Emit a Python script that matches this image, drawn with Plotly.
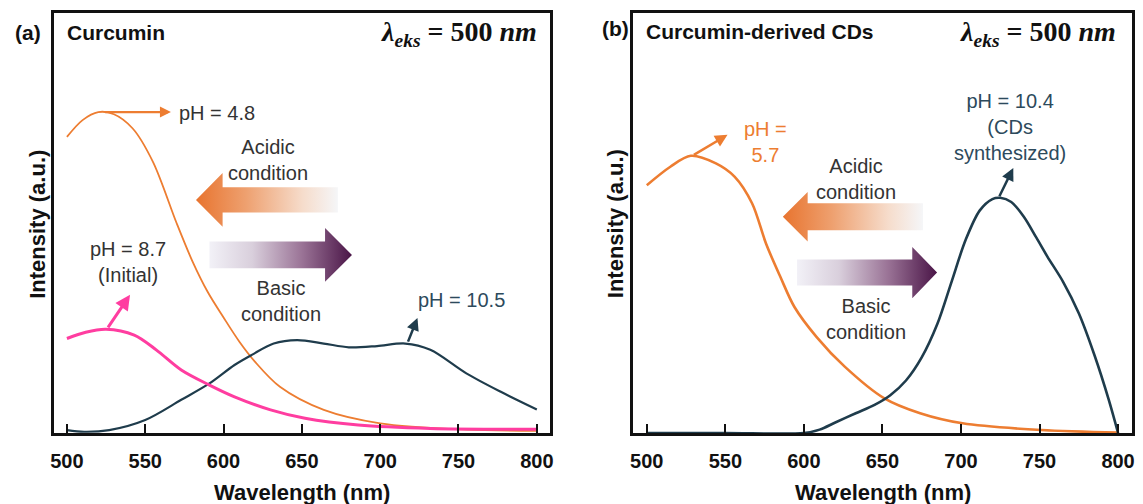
import plotly.graph_objects as go

# ---------------- data (wavelength nm, intensity a.u. 0-100) ----------------
# Panel (a) Curcumin
a_orange_x = [500, 510, 520, 530, 542, 555, 570, 580, 590, 600, 610, 620, 636, 664, 700, 755, 800]
a_orange_y = [70.5, 74.5, 76.4, 75.9, 72.5, 64.5, 50.0, 41.0, 33.5, 27.5, 21.8, 17.0, 11.0, 5.5, 2.3, 0.8, 0.5]

a_pink_x = [500, 512, 525, 543, 557, 573, 591, 607, 630, 652, 686, 732, 800]
a_pink_y = [22.5, 24.0, 24.7, 23.3, 19.8, 15.0, 11.4, 8.6, 5.5, 3.5, 1.9, 1.1, 0.9]

a_navy_x = [500, 511, 527, 550, 573, 591, 607, 618, 632, 647, 664, 680, 698, 716, 732, 755, 777, 800]
a_navy_y = [0.7, 0.3, 0.7, 3.1, 7.9, 11.8, 16.2, 18.6, 21.3, 22.1, 21.3, 20.4, 20.7, 21.3, 19.8, 14.2, 9.8, 5.6]

# Panel (b) Curcumin-derived CDs
b_orange_x = [500, 515, 528, 544, 556, 567, 576, 585, 594, 608, 626, 651, 674, 701, 751, 800]
b_orange_y = [59.0, 63.4, 66.0, 64.2, 61.0, 54.7, 45.0, 37.2, 30.0, 22.9, 15.8, 8.3, 4.7, 2.3, 0.7, 0.1]

b_navy_x = [500, 550, 600, 610, 620, 633, 645, 655, 665, 675, 685, 694, 703, 712, 720, 725, 732, 740, 748, 755, 765, 775, 785, 794, 800]
b_navy_y = [0.0, 0.0, 0.0, 0.8, 2.5, 4.7, 6.7, 9.0, 12.5, 18.0, 26.0, 36.0, 46.0, 53.0, 55.7, 56.0, 55.0, 51.5, 46.5, 42.0, 36.0, 28.5, 18.5, 8.0, 0.0]

tick_vals = [500, 550, 600, 650, 700, 750, 800]
tick_text = ["<b>500</b>", "<b>550</b>", "<b>600</b>", "<b>650</b>", "<b>700</b>", "<b>750</b>", "<b>800</b>"]

ORANGE = "#ed7d31"
PINK = "#ff3da0"
NAVY = "#1f3c4c"
TXT = "#333333"
FONT = "Arial, Liberation Sans, sans-serif"

fig = go.Figure()

def curve(x, y, color, width, xa, ya):
    fig.add_trace(go.Scatter(x=x, y=y, mode="lines", xaxis=xa, yaxis=ya,
                             line=dict(color=color, width=width, shape="spline", smoothing=0.9),
                             showlegend=False, hoverinfo="skip"))

# block arrows (decorations)
def block_arrow(tail, head_base, tip, tip_y, shaft_half, head_half, xa, ya, scale):
    xs = [tail, head_base, head_base, tip, head_base, head_base, tail, tail]
    ys = [tip_y + shaft_half, tip_y + shaft_half, tip_y + head_half, tip_y,
          tip_y - head_half, tip_y - shaft_half, tip_y - shaft_half, tip_y + shaft_half]
    fig.add_trace(go.Scatter(x=xs, y=ys, mode="lines", fill="toself", xaxis=xa, yaxis=ya,
                             line=dict(width=0, color="rgba(0,0,0,0)"),
                             fillgradient=dict(type="horizontal", colorscale=scale),
                             showlegend=False, hoverinfo="skip"))

orange_scale = [[0, "#e8742f"], [0.35, "#eea06f"], [0.75, "#f6dccb"], [1, "#f5f6f8"]]
purple_scale = [[0, "#f2f1f7"], [0.3, "#d9cfdc"], [0.65, "#9a7396"], [1, "#4a1547"]]

# panel a arrows
block_arrow(673, 599.4, 582.4, 55.5, 3.0, 6.4, "x", "y", orange_scale)
block_arrow(591, 664.8, 682, 42.4, 3.2, 6.4, "x", "y", purple_scale)
# panel b arrows
block_arrow(675.8, 602.4, 586.6, 51.5, 3.2, 5.9, "x2", "y2", orange_scale)
block_arrow(595.6, 669, 684.8, 38.2, 3.1, 6.1, "x2", "y2", purple_scale)

curve(a_orange_x, a_orange_y, ORANGE, 1.8, "x", "y")
curve(a_navy_x, a_navy_y, NAVY, 2.2, "x", "y")
curve(a_pink_x, a_pink_y, PINK, 3.0, "x", "y")
curve(b_orange_x, b_orange_y, ORANGE, 2.6, "x2", "y2")
curve(b_navy_x, b_navy_y, NAVY, 2.6, "x2", "y2")

ann = []
def arrow(x0, y0, x1, y1, color, xr, yr, w=2.5):
    ann.append(dict(x=x1, y=y1, ax=x0, ay=y0, xref=xr, yref=yr, axref=xr, ayref=yr,
                    text="", showarrow=True, arrowhead=2, arrowsize=1.0, arrowwidth=w,
                    arrowcolor=color, standoff=0, startstandoff=0))

def txt(x, y, s, color, xr, yr, size=20, xanchor="center"):
    ann.append(dict(x=x, y=y, xref=xr, yref=yr, text=s, showarrow=False,
                    font=dict(family=FONT, size=size, color=color), xanchor=xanchor,
                    yanchor="middle", align="center"))

# panel a
arrow(523.3, 76.4, 566.4, 76.4, ORANGE, "x", "y", 2.2)
arrow(525.6, 24.8, 540.3, 32.9, PINK, "x", "y", 3)
arrow(717.4, 21.4, 723.8, 27.4, NAVY, "x", "y", 2.5)
txt(570.5, 76.2, "pH = 4.8", TXT, "x", "y", xanchor="left")
txt(628.6, 64.9, "Acidic<br>condition", TXT, "x", "y")
txt(636.6, 31.5, "Basic<br>condition", TXT, "x", "y")
txt(539, 40.6, "pH = 8.7<br>(Initial)", TXT, "x", "y")
txt(751.7, 31.7, "pH = 10.5", "#2d4a5c", "x", "y")
# panel b
arrow(529, 66, 551.4, 71, ORANGE, "x2", "y2", 2.5)
arrow(724, 56, 733.3, 63.1, NAVY, "x2", "y2", 2.5)
txt(575.3, 69.2, "pH =<br>5.7", ORANGE, "x2", "y2")
txt(632.9, 60.5, "Acidic<br>condition", TXT, "x2", "y2")
txt(639.7, 27.1, "Basic<br>condition", TXT, "x2", "y2")
txt(731, 72.9, "pH = 10.4<br>(CDs<br>synthesized)", "#2d4a5c", "x2", "y2")

W, H = 1143, 504
def px(x): return x / W
def py(y): return 1 - y / H

# titles
def ptxt(x, y, s, size, xanchor="left", family=FONT, angle=0, color="#111111"):
    ann.append(dict(x=px(x), y=py(y), xref="paper", yref="paper", text=s, showarrow=False,
                    font=dict(family=family, size=size, color=color), xanchor=xanchor,
                    yanchor="middle", textangle=angle))

ptxt(9, 32, "<b>(a)</b>", 21)
ptxt(61, 32, "<b>Curcumin</b>", 21)
ptxt(600, 28, "<b>(b)</b>", 21)
ptxt(644, 31, "<b>Curcumin-derived CDs</b>", 21)
lam = "<b><i>λ</i><sub><i>eks</i></sub> = 500 <i>nm</i></b>"
SERIF = "Liberation Serif, DejaVu Serif, serif"
ptxt(538, 34, lam, 28, xanchor="right", family=SERIF)
ptxt(1121, 34, lam, 28, xanchor="right", family=SERIF)
ptxt(33, 224, "<b>Intensity (a.u.)</b>", 22, xanchor="center", angle=-90)
ptxt(615, 224, "<b>Intensity (a.u.)</b>", 22, xanchor="center", angle=-90)
ptxt(300, 492, "<b>Wavelength (nm)</b>", 22, xanchor="center")
ptxt(884, 492, "<b>Wavelength (nm)</b>", 22, xanchor="center")

xcommon = dict(tickmode="array", tickvals=tick_vals, ticktext=tick_text, ticks="inside",
               ticklen=9, tickwidth=1.5, tickcolor="#111", showline=True, linecolor="#111",
               linewidth=2.8, mirror=True, showgrid=False, zeroline=False,
               tickfont=dict(family=FONT, size=20, color="#111"), ticklabelstandoff=8)
ycommon = dict(range=[0, 100], showticklabels=False, ticks="", showline=True, linecolor="#111",
               linewidth=2.8, mirror=True, showgrid=False, zeroline=False)

fig.update_layout(
    width=W, height=H, margin=dict(l=0, r=0, t=0, b=0),
    paper_bgcolor="white", plot_bgcolor="white", showlegend=False,
    xaxis=dict(domain=[px(50.7), px(549.5)], range=[492.0, 808.5], anchor="y", **xcommon),
    yaxis=dict(domain=[py(433), py(13)], anchor="x", **ycommon),
    xaxis2=dict(domain=[px(633), px(1135)], range=[491.3, 808.9], anchor="y2", **xcommon),
    yaxis2=dict(domain=[py(433), py(13)], anchor="x2", **ycommon),
    annotations=ann,
)

fig.write_html("out.html", config={"displayModeBar": False},
               post_script="document.body.style.margin='0';document.body.style.padding='0';document.body.style.overflow='hidden';")
